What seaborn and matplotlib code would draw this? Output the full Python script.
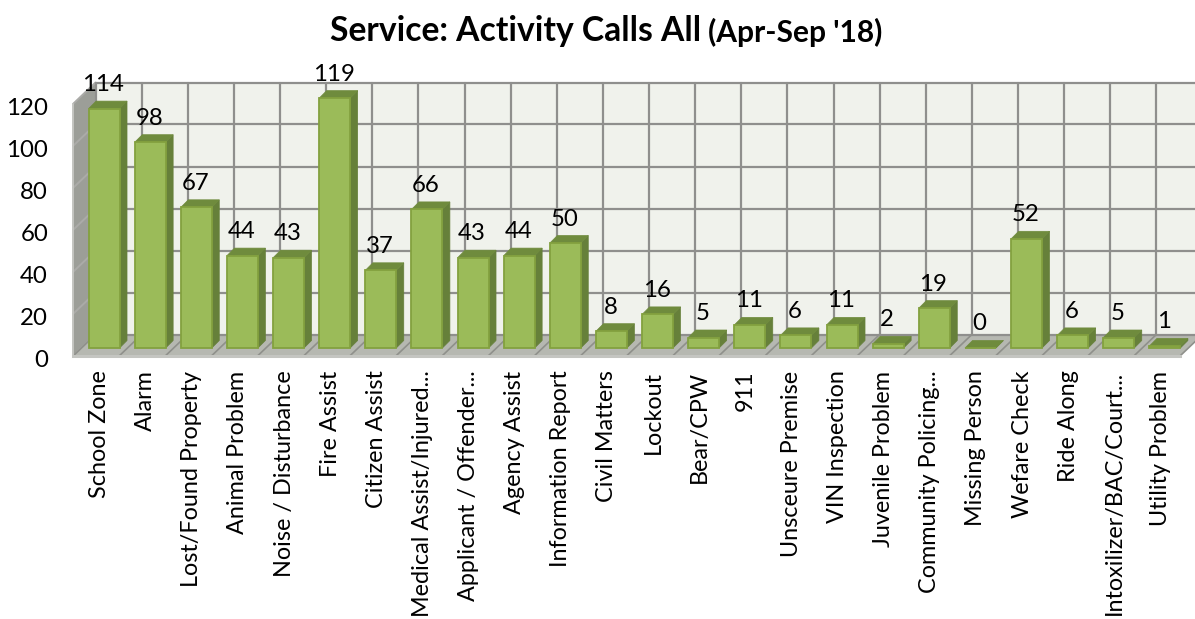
import matplotlib
matplotlib.use("Agg")
import matplotlib.pyplot as plt
from matplotlib.patches import Polygon
from matplotlib.transforms import Affine2D, ScaledTranslation
import pandas as pd
import seaborn as sns

categories = ["School Zone", "Alarm", "Lost/Found Property", "Animal Problem", "Noise / Disturbance",
              "Fire Assist", "Citizen Assist", "Medical Assist/Injured...", "Applicant / Offender...",
              "Agency Assist", "Information Report", "Civil Matters", "Lockout", "Bear/CPW", "911",
              "Unsceure Premise", "VIN Inspection", "Juvenile Problem", "Community Policing...",
              "Missing Person", "Wefare Check", "Ride Along", "Intoxilizer/BAC/Court...", "Utility Problem"]
values = [114, 98, 67, 44, 43, 119, 37, 66, 43, 44, 50, 8, 16, 5, 11, 6, 11, 2, 19, 0, 52, 6, 5, 1]
y_ticks = [0, 20, 40, 60, 80, 100, 120]
title_main = "Service: Activity Calls All"
title_sub = "(Apr-Sep '18)"

W, H = 1195, 619
sns.set_theme(style="white")
plt.rcParams["font.family"] = ["Lato", "DejaVu Sans"]

fig = plt.figure(figsize=(W / 100, H / 100), dpi=100, facecolor="white")
ax = fig.add_axes([73 / W, (H - 356) / H, (1180 - 73) / W, 252 / H])

df = pd.DataFrame({"category": categories, "value": values})
sns.barplot(data=df, x="category", y="value", color="#9BBB59", saturation=1, width=0.67, gap=0,
            errorbar=None, ax=ax, zorder=5)
ax.set_xlim(-0.5, len(categories) - 0.5)
ax.set_ylim(0, 120)
ax.set_xlabel("")
ax.set_ylabel("")
for s in ax.spines.values():
    s.set_visible(False)

px_x = (len(categories)) / (1180 - 73)   # data units per pixel, x
px_y = 120 / 252                          # data units per pixel, y
DX, DY = 22.5 * px_x, 21.5 * px_y         # full chart depth
x0, x1, y1 = -0.5, len(categories) - 0.5, 120


def poly(pts, **kw):
    p = Polygon(pts, closed=True, clip_on=False, **kw)
    ax.add_patch(p)
    return p


GRID = "#8F8F8D"
# walls
poly([(x0 + DX, DY), (x1 + DX, DY), (x1 + DX, y1 + DY), (x0 + DX, y1 + DY)], fc="#F0F2EC", ec="none", zorder=1)
poly([(x0, 0), (x0 + DX, DY), (x0 + DX, y1 + DY), (x0, y1)], fc="#9C9E98", ec="none", zorder=1)
poly([(x0, 0), (x1, 0), (x1 + DX, DY), (x0 + DX, DY)], fc="#B6B8B1", ec="none", zorder=1)

for t in y_ticks:
    ax.plot([x0 + DX, x1 + DX], [t + DY, t + DY], color=GRID, lw=1.6, zorder=2, clip_on=False)
    ax.plot([x0, x0 + DX], [t, t + DY], color="#ABABA8", lw=1.4, zorder=2, clip_on=False)
for i in range(len(categories) + 1):
    xx = x0 + i
    ax.plot([xx + DX, xx + DX], [DY, y1 + DY], color=GRID, lw=1.6, zorder=2, clip_on=False)
    ax.plot([xx, xx + DX], [0, DY], color="#8F908B", lw=1.2, zorder=2, clip_on=False)
ax.plot([x0, x1], [0, 0], color="#C4C5C1", lw=2.2, zorder=3, clip_on=False, solid_capstyle="projecting")
ax.plot([x0, x0], [0, y1], color="#C4C5C1", lw=1.4, zorder=3, clip_on=False)

# bars: seaborn draws the front faces, depth faces follow from their geometry
off_x, off_y = 8 * px_x, 8 * px_y
bar_d_x, bar_d_y = 7.5 * px_x, 7.5 * px_y
shift = Affine2D().translate(off_x, off_y) + ax.transData
for bar, v in zip(ax.patches[:len(values)], values):
    l, w = bar.get_x(), bar.get_width()
    bar.set_transform(shift)
    bar.set_edgecolor("#83A13F")
    bar.set_linewidth(1.3)
    bar.set_clip_on(False)
    L, R = l + off_x, l + w + off_x
    B, T = off_y, v + off_y
    poly([(R, B), (R + bar_d_x, B + bar_d_y), (R + bar_d_x, T + bar_d_y), (R, T)], fc="#66803A", ec="#66803A", lw=0.5, zorder=4)
    poly([(L, T), (R, T), (R + bar_d_x, T + bar_d_y), (L + bar_d_x, T + bar_d_y)], fc="#6F8B3D", ec="#6F8B3D", lw=0.5, zorder=4.5)
    ax.annotate(str(v), (L + w / 2, T), xytext=(-1, 24), textcoords="offset pixels", ha="center", va="center",
                fontsize=17.3, color="black", zorder=8, annotation_clip=False)

ax.set_yticks(y_ticks)
ax.set_xticks(range(len(categories)))
ax.set_xticklabels(categories, rotation=90, ha="center", va="top", fontsize=16.8, color="black")
ax.tick_params(axis="x", length=0, pad=10.5)
ax.tick_params(axis="y", length=0, pad=18, labelsize=17.3, labelcolor="black")
x_label_shift = ScaledTranslation(3.5 / 100, 0, fig.dpi_scale_trans)
for lab in ax.get_xticklabels():
    lab.set_transform(lab.get_transform() + x_label_shift)
y_label_shift = ScaledTranslation(0, -2.5 / 100, fig.dpi_scale_trans)
for lab in ax.get_yticklabels():
    lab.set_transform(lab.get_transform() + y_label_shift)

t1 = fig.text(330 / W, 1 - 31 / H, title_main, fontsize=24.2, fontweight="bold", color="black", ha="left", va="center")
t2 = fig.text(708 / W, 1 - 32 / H, title_sub, fontsize=21.5, fontweight="bold", color="black", ha="left", va="center")

fig.savefig("out.png", dpi=100, facecolor="white")
